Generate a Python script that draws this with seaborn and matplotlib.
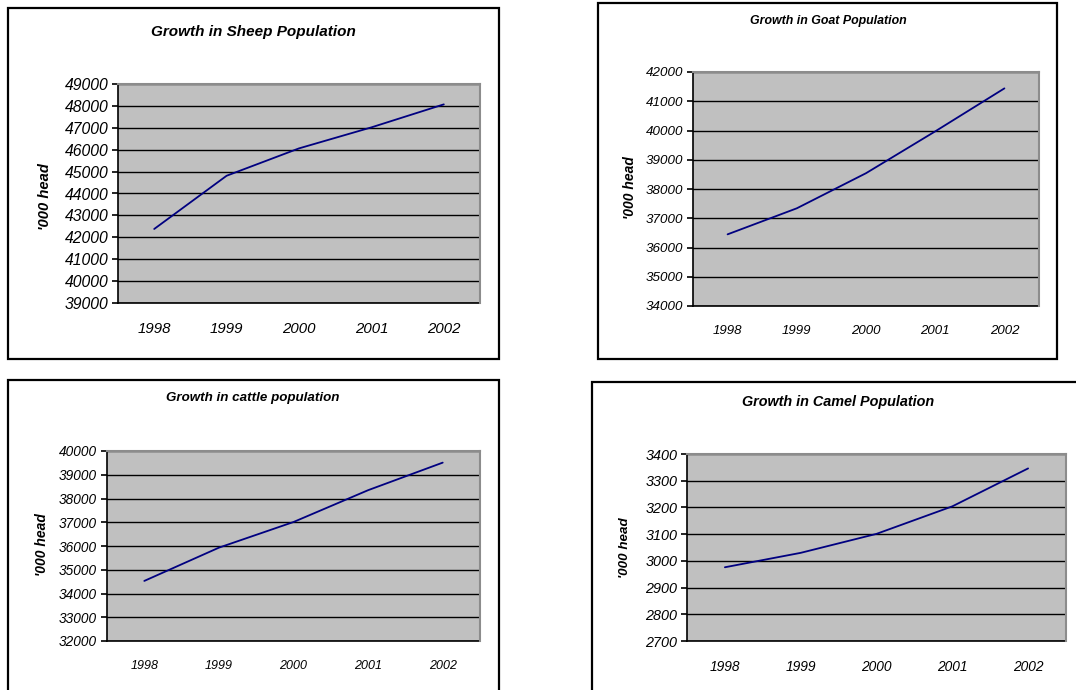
import matplotlib
matplotlib.use("Agg")
import matplotlib.pyplot as plt
from matplotlib.patches import Rectangle
import numpy as np
import pandas as pd
import seaborn as sns

years = ["1998", "1999", "2000", "2001", "2002"]
sheep = [42380, 44810, 46060, 47020, 48070]
goat = [36450, 37340, 38540, 39970, 41440]
cattle = [34530, 35930, 37010, 38350, 39510]
camel = [2976, 3030, 3101, 3204, 3346]

sns.set_style("white")
plt.rcParams["font.family"] = ["Liberation Sans", "DejaVu Sans"]
plt.rcParams["text.color"] = "black"
plt.rcParams["xtick.color"] = "black"
plt.rcParams["ytick.color"] = "black"
plt.rcParams["axes.labelcolor"] = "black"

W, H = 1076, 690
fig = plt.figure(figsize=(W / 100, H / 100), dpi=100)
fig.patch.set_facecolor("white")


def fx(x):
    return x / W


def fy(y):
    return 1 - y / H


def frame(x0, y0, x1, y1):
    fig.patches.append(Rectangle((fx(x0), fy(y1)), fx(x1) - fx(x0), fy(y0) - fy(y1),
                                 transform=fig.transFigure, fill=False,
                                 edgecolor="black", lw=1.6, zorder=0))


def panel(values, title, yticks, box, area, title_pos, ylab_pos,
          tick_fs, xtick_fs, title_fs, ylab_fs):
    frame(*box)
    x0, y0, x1, y1 = area
    ax = fig.add_axes([fx(x0), fy(y1), fx(x1) - fx(x0), fy(y0) - fy(y1)])
    df = pd.DataFrame({"year": years, "head": values})
    sns.lineplot(data=df, x="year", y="head", ax=ax, color="#000080", lw=1.3,
                 sort=False)
    ax.set_facecolor("#c0c0c0")
    ax.set_xlim(-0.5, len(years) - 0.5)
    ax.set_ylim(yticks[0], yticks[-1])
    ax.set_yticks(yticks)
    ax.set_yticklabels([str(t) for t in yticks], fontsize=tick_fs, style="italic",
                       color="black")
    ax.set_xticks(range(len(years)))
    ax.set_xticklabels(years, fontsize=xtick_fs, style="italic", color="black")
    ax.set_xticks(np.arange(-0.5, len(years), 1.0), minor=True)
    ax.tick_params(axis="x", which="major", length=0, pad=14)
    ax.tick_params(axis="x", which="minor", length=5, width=1.2, direction="out",
                   color="black")
    ax.tick_params(axis="y", which="major", length=4, width=1.2, direction="out",
                   color="black", pad=3, left=True)
    ax.yaxis.grid(True, color="black", lw=1.0)
    ax.xaxis.grid(False)
    ax.set_axisbelow(True)
    for side in ("left", "bottom"):
        ax.spines[side].set_color("black")
        ax.spines[side].set_linewidth(1.2)
    for side in ("top", "right"):
        ax.spines[side].set_color("#8c8c8c")
        ax.spines[side].set_linewidth(1.5)
        ax.spines[side].set_zorder(5)
    ax.set_xlabel("")
    ax.set_ylabel("")
    fig.text(fx(title_pos[0]), fy(title_pos[1]), title, ha="center", va="center",
             fontsize=title_fs, fontweight="bold", style="italic", color="black")
    fig.text(fx(ylab_pos[0]), fy(ylab_pos[1]), "'000 head", ha="center", va="center",
             rotation=90, fontsize=ylab_fs, fontweight="bold", style="italic",
             color="black")
    return ax


panel(sheep, "Growth in Sheep Population", list(range(39000, 49001, 1000)),
      (8, 8, 499, 359), (118, 84, 480, 303), (253, 32), (45, 197),
      11.3, 10.8, 11, 10.6)
panel(goat, "Growth in Goat Population", list(range(34000, 42001, 1000)),
      (598, 3, 1057, 359), (693, 72, 1039, 306), (828, 21), (630, 188),
      9.6, 9.5, 8.9, 10)
panel(cattle, "Growth in cattle population", list(range(32000, 40001, 1000)),
      (8, 380, 499, 705), (107, 451, 480, 641), (253, 398), (42, 545),
      9.8, 9.0, 9.6, 10)
panel(camel, "Growth in Camel Population", list(range(2700, 3401, 100)),
      (592, 382, 1090, 705), (687, 454, 1066, 641), (838, 402), (625, 548),
      10.4, 9.9, 10.4, 9.6)

fig.savefig("out.png", dpi=100, facecolor="white")
